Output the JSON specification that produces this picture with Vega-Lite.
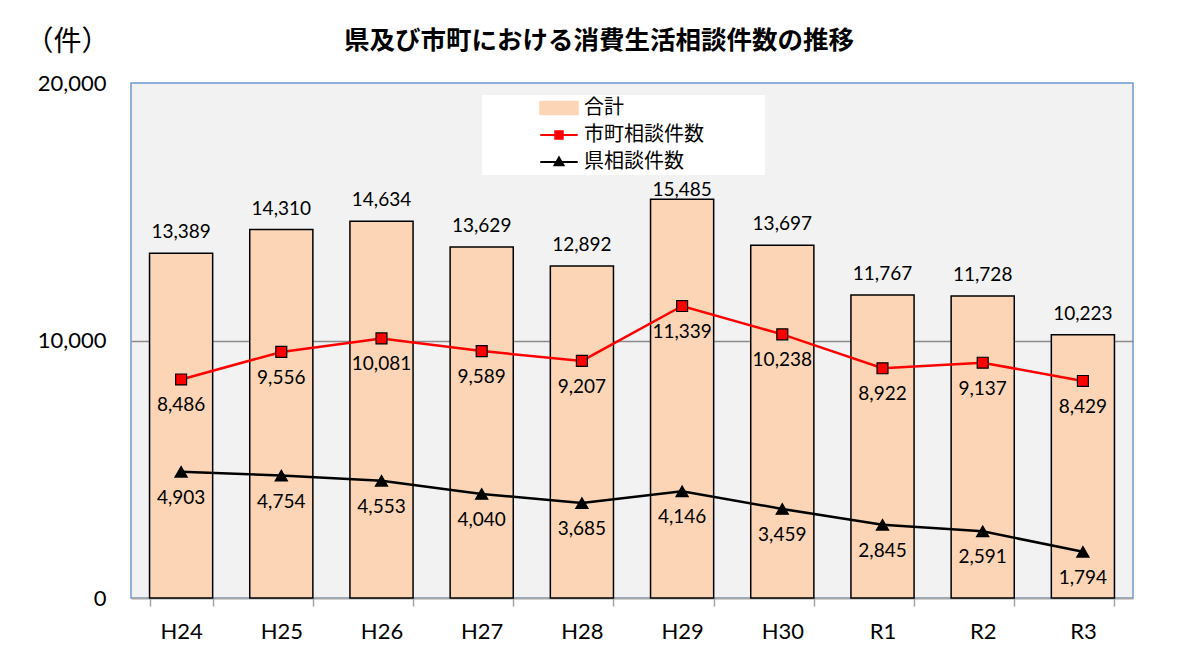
{
  "$schema": "https://vega.github.io/schema/vega-lite/v6.json",
  "width": 1002,
  "height": 515,
  "autosize": {"type": "none"},
  "padding": {"left": 131, "top": 83, "right": 54, "bottom": 61},
  "background": "white",
  "title": {
    "text": "県及び市町における消費生活相談件数の推移",
    "font": "Noto Sans CJK JP",
    "fontSize": 25.5,
    "fontWeight": "bold",
    "color": "#000000",
    "anchor": "middle",
    "frame": "group",
    "dx": -33,
    "dy": 50,
    "offset": 24
  },
  "data": {
    "values": [
      {"year": "H24", "type": "合計", "value": 13389},
      {"year": "H25", "type": "合計", "value": 14310},
      {"year": "H26", "type": "合計", "value": 14634},
      {"year": "H27", "type": "合計", "value": 13629},
      {"year": "H28", "type": "合計", "value": 12892},
      {"year": "H29", "type": "合計", "value": 15485},
      {"year": "H30", "type": "合計", "value": 13697},
      {"year": "R1", "type": "合計", "value": 11767},
      {"year": "R2", "type": "合計", "value": 11728},
      {"year": "R3", "type": "合計", "value": 10223},
      {"year": "H24", "type": "市町相談件数", "value": 8486},
      {"year": "H25", "type": "市町相談件数", "value": 9556},
      {"year": "H26", "type": "市町相談件数", "value": 10081},
      {"year": "H27", "type": "市町相談件数", "value": 9589},
      {"year": "H28", "type": "市町相談件数", "value": 9207},
      {"year": "H29", "type": "市町相談件数", "value": 11339},
      {"year": "H30", "type": "市町相談件数", "value": 10238},
      {"year": "R1", "type": "市町相談件数", "value": 8922},
      {"year": "R2", "type": "市町相談件数", "value": 9137},
      {"year": "R3", "type": "市町相談件数", "value": 8429},
      {"year": "H24", "type": "県相談件数", "value": 4903},
      {"year": "H25", "type": "県相談件数", "value": 4754},
      {"year": "H26", "type": "県相談件数", "value": 4553},
      {"year": "H27", "type": "県相談件数", "value": 4040},
      {"year": "H28", "type": "県相談件数", "value": 3685},
      {"year": "H29", "type": "県相談件数", "value": 4146},
      {"year": "H30", "type": "県相談件数", "value": 3459},
      {"year": "R1", "type": "県相談件数", "value": 2845},
      {"year": "R2", "type": "県相談件数", "value": 2591},
      {"year": "R3", "type": "県相談件数", "value": 1794}
    ]
  },
  "encoding": {
    "x": {
      "field": "year",
      "type": "nominal",
      "sort": null,
      "scale": {"type": "band", "paddingInner": 0.37, "paddingOuter": 0.185},
      "axis": {
        "title": null,
        "labelAngle": 0,
        "labelFont": "Lato",
        "labelFontSize": 22,
        "labelColor": "#000000",
        "labelPadding": 15,
        "tickBand": "extent",
        "tickSize": 8,
        "tickWidth": 1.5,
        "tickColor": "#a6a6a6",
        "domainColor": "#a6a6a6",
        "domainWidth": 2,
        "grid": false
      }
    },
    "y": {
      "field": "value",
      "type": "quantitative",
      "scale": {"domain": [0, 20000], "nice": false, "zero": true},
      "axis": {
        "values": [0, 10000, 20000],
        "format": ",.0f",
        "labelFont": "Lato",
        "labelFontSize": 22,
        "labelColor": "#000000",
        "labelPadding": 25,
        "ticks": false,
        "domain": false,
        "grid": true,
        "gridColor": {"condition": {"test": "datum.value === 10000", "value": "#8c8c8c"}, "value": "transparent"},
        "gridWidth": 1.5,
        "title": "（件）",
        "titleAngle": 0,
        "titleAlign": "center",
        "titleBaseline": "middle",
        "titleX": -64,
        "titleY": -41,
        "titleFont": "Noto Sans CJK JP",
        "titleFontSize": 28,
        "titleFontWeight": "normal",
        "titleColor": "#000000"
      }
    }
  },
  "layer": [
    {
      "transform": [{"filter": "datum.type === '合計'"}],
      "mark": {"type": "bar", "stroke": "#000000", "strokeWidth": 1.5},
      "encoding": {
        "color": {
          "field": "type",
          "type": "nominal",
          "scale": {"domain": ["合計", "市町相談件数", "県相談件数"], "range": ["#fbd5b5", "#ff0000", "#000000"]},
          "legend": {
            "title": null,
            "orient": "none",
            "legendX": 351,
            "legendY": 12,
            "fillColor": "#ffffff",
            "padding": 1,
            "symbolOffset": 56,
            "symbolSize": 1400,
            "clipHeight": 24,
            "labelOffset": 5,
            "rowPadding": 3,
            "labelFont": "Noto Sans CJK JP",
            "labelFontSize": 20,
            "labelColor": "#000000",
            "labelLimit": 400,
            "labelExpr": "datum.label + '　　　\u200b'",
            "encoding": {
              "symbols": {
                "shape": {"value": {"expr": "datum.value === '合計' ? 'M-1,-0.33H1V0.33H-1Z' : datum.value === '市町相談件数' ? 'M-1,0H1M-0.2,-0.2H0.2V0.2H-0.2Z' : 'M-1,0H1M0,-0.24L0.24,0.18H-0.24Z'"}},
                "fill": {"value": {"expr": "datum.value === '合計' ? '#fbd5b5' : datum.value === '市町相談件数' ? '#ff0000' : '#000000'"}},
                "stroke": {"value": {"expr": "datum.value === '市町相談件数' ? '#ff0000' : '#000000'"}},
                "strokeWidth": {"value": 2},
                "strokeOpacity": {"value": 1},
                "fillOpacity": {"value": 1},
                "opacity": {"value": 1}
              }
            }
          }
        }
      }
    },
    {
      "transform": [{"filter": "datum.type === '合計' && datum.year !== 'H29'"}],
      "mark": {"type": "text", "dy": -21, "baseline": "middle", "font": "Lato", "fontSize": 19, "color": "#000000"},
      "encoding": {"text": {"field": "value", "type": "quantitative", "format": ","}}
    },
    {
      "transform": [{"filter": "datum.type === '合計' && datum.year === 'H29'"}],
      "mark": {"type": "text", "dy": -9, "baseline": "middle", "font": "Lato", "fontSize": 19, "color": "#000000"},
      "encoding": {"text": {"field": "value", "type": "quantitative", "format": ","}}
    },
    {
      "transform": [{"filter": "datum.type !== '合計'"}],
      "mark": {"type": "line", "strokeWidth": 2.5},
      "encoding": {
        "color": {"field": "type", "type": "nominal", "legend": null}
      }
    },
    {
      "transform": [{"filter": "datum.type !== '合計'"}],
      "mark": {"type": "point", "filled": true, "stroke": "#000000", "strokeWidth": 1.2, "opacity": 1},
      "encoding": {
        "color": {"field": "type", "type": "nominal", "legend": null},
        "shape": {
          "field": "type",
          "type": "nominal",
          "scale": {"domain": ["市町相談件数", "県相談件数"], "range": ["square", "triangle-up"]},
          "legend": null
        },
        "size": {
          "field": "type",
          "type": "nominal",
          "scale": {"domain": ["市町相談件数", "県相談件数"], "range": [120, 150]},
          "legend": null
        }
      }
    },
    {
      "transform": [{"filter": "datum.type !== '合計'"}],
      "mark": {"type": "text", "dy": 26, "baseline": "middle", "font": "Lato", "fontSize": 19, "color": "#000000"},
      "encoding": {"text": {"field": "value", "type": "quantitative", "format": ","}}
    }
  ],
  "config": {
    "view": {"fill": "#f2f2f2", "stroke": "#6f9bd6", "strokeWidth": 1.5},
    "axis": {"labelFontWeight": "normal"}
  }
}
